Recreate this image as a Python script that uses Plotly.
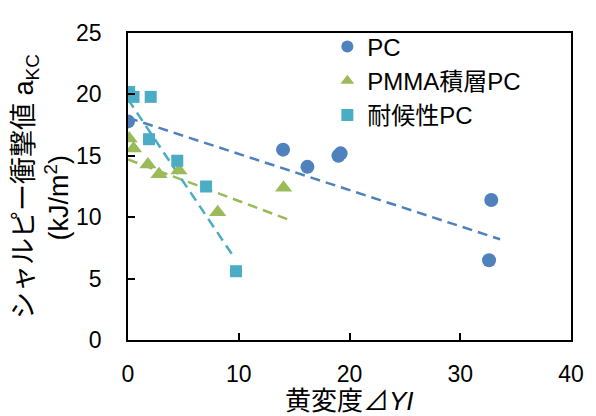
import plotly.graph_objects as go

# Data
pc_x = [0.0, 14.0, 16.2, 19.0, 19.2, 32.8, 32.6]
pc_y = [17.8, 15.5, 14.1, 15.0, 15.2, 11.4, 6.5]

pmma_x = [0.1, 0.5, 1.8, 2.8, 4.6, 8.1, 14.05]
pmma_y = [16.4, 15.6, 14.3, 13.5, 13.8, 10.4, 12.4]

wpc_x = [0.1, 0.5, 2.05, 1.9, 4.45, 7.05, 9.75]
wpc_y = [20.2, 19.8, 19.8, 16.35, 14.6, 12.5, 5.6]

# Linear trendlines (end points)
pc_trend_x = [0.0, 33.6]
pc_trend_y = [18.1, 8.2]
pmma_trend_x = [0.0, 14.5]
pmma_trend_y = [14.7, 9.8]
wpc_trend_x = [0.0, 9.6]
wpc_trend_y = [19.6, 6.7]

names = ["PC", "PMMA積層PC", "耐候性PC"]
colors = ["#4F81BD", "#9BBB59", "#4BACC6"]

x_ticks = [0, 10, 20, 30, 40]
y_ticks = [0, 5, 10, 15, 20, 25]

FONT = "Liberation Sans, Arial, Noto Sans CJK JP, sans-serif"

fig = go.Figure()

trends = [(pc_trend_x, pc_trend_y), (pmma_trend_x, pmma_trend_y), (wpc_trend_x, wpc_trend_y)]
for (tx, ty), c in zip(trends, colors):
    fig.add_trace(go.Scatter(x=tx, y=ty, mode="lines", showlegend=False,
                             line=dict(color=c, width=2.5, dash="10px,6px"),
                             hoverinfo="skip"))

series = [(pc_x, pc_y, "circle", 14), (pmma_x, pmma_y, "triangle-up", 15), (wpc_x, wpc_y, "square", 12)]
for (sx, sy, sym, sz), name, c in zip(series, names, colors):
    fig.add_trace(go.Scatter(x=sx, y=sy, mode="markers", name=name,
                             marker=dict(symbol=sym, size=sz, color=c)))

fig.update_layout(
    width=588, height=408,
    margin=dict(l=120, r=23, t=14, b=76),
    paper_bgcolor="white", plot_bgcolor="white",
    font=dict(family=FONT, size=23, color="black"),
    legend=dict(x=0.45, y=1.028, xanchor="left", yanchor="top",
                bgcolor="rgba(0,0,0,0)", font=dict(size=24),
                itemsizing="constant", tracegroupgap=0),
    xaxis=dict(range=[0, 40], tickvals=x_ticks, ticks="inside", ticklen=7,
               tickwidth=1.5, tickcolor="black", showline=True, linecolor="black",
               linewidth=1.5, mirror=True, showgrid=False, zeroline=False,
               ticklabelstandoff=13),
    yaxis=dict(range=[0, 25], tickvals=y_ticks, ticks="inside", ticklen=7,
               tickwidth=1.5, tickcolor="black", showline=True, linecolor="black",
               linewidth=1.5, mirror=True, showgrid=False, zeroline=False,
               ticklabelstandoff=20),
)

fig.add_annotation(
    text="シャルピー衝撃値 a<sub>KC</sub>",
    xref="paper", yref="paper", x=-0.2315, y=0.50,
    xanchor="center", yanchor="middle", textangle=-90, showarrow=False,
    font=dict(size=27),
)
fig.add_annotation(
    text="(kJ/m<sup>2</sup>)",
    xref="paper", yref="paper", x=-0.1596, y=0.465,
    xanchor="center", yanchor="middle", textangle=-90, showarrow=False,
    font=dict(size=27),
)
fig.add_annotation(
    text="黄変度⊿<i>YI</i>",
    xref="paper", yref="paper", x=0.5, y=-0.2,
    xanchor="center", yanchor="middle", showarrow=False,
    font=dict(size=26),
)

fig.write_html("out.html")
